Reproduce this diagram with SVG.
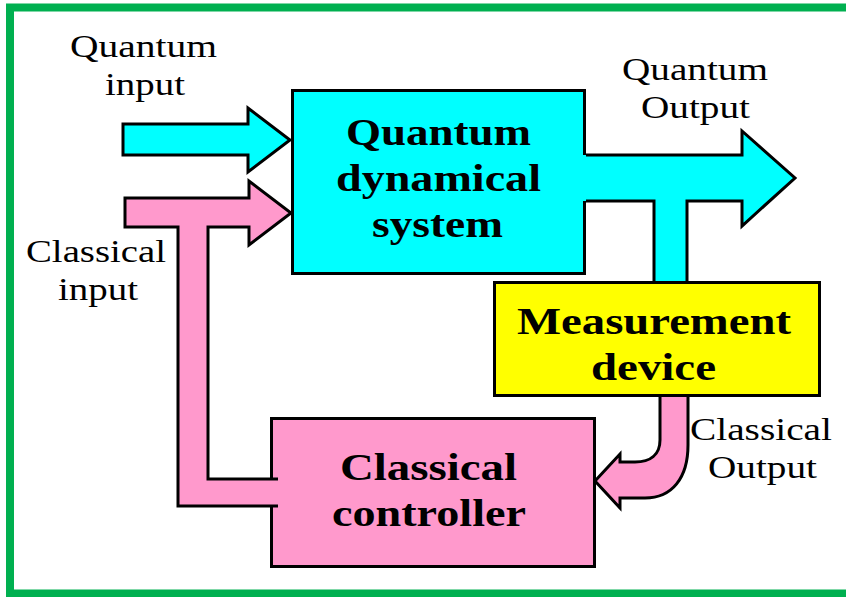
<svg xmlns="http://www.w3.org/2000/svg" width="846" height="597" viewBox="0 0 846 597">
<defs>
<style>
.frame{fill:none;stroke:#00B050;stroke-width:8}
.box{stroke:#000;stroke-width:3}
.edge{fill:none;stroke:#000;stroke-width:3;stroke-linejoin:miter}
.fillonly{stroke:none}
.cyan{fill:#00FFFF}
.yellow{fill:#FFFF00}
.pink{fill:#FF99CC}
.lbl{font-family:"Liberation Serif","Times New Roman",serif;font-size:32px;fill:#000;text-anchor:middle}
.ttl{font-family:"Liberation Serif","Times New Roman",serif;font-size:38px;font-weight:bold;fill:#000;text-anchor:middle}
</style>
</defs>
<rect width="846" height="597" fill="#fff"/>
<rect class="frame" x="10" y="7.5" width="860" height="586"/>

<g id="quantum-system">
<rect class="box cyan" x="292.5" y="90.5" width="292" height="183"/>
<text class="ttl" x="438.5" y="145" textLength="185" lengthAdjust="spacingAndGlyphs">Quantum</text>
<text class="ttl" x="438.5" y="191" textLength="205" lengthAdjust="spacingAndGlyphs">dynamical</text>
<text class="ttl" x="437.5" y="237" textLength="131" lengthAdjust="spacingAndGlyphs">system</text>
</g>

<g id="measurement-device">
<rect class="box yellow" x="494.5" y="282.5" width="325" height="113"/>
<text class="ttl" x="654" y="334" textLength="274" lengthAdjust="spacingAndGlyphs">Measurement</text>
<text class="ttl" x="653.5" y="380" textLength="125" lengthAdjust="spacingAndGlyphs">device</text>
</g>

<g id="classical-controller">
<rect class="box pink" x="271.5" y="418.5" width="323" height="148"/>
<text class="ttl" x="428.5" y="480" textLength="177" lengthAdjust="spacingAndGlyphs">Classical</text>
<text class="ttl" x="429" y="526" textLength="194" lengthAdjust="spacingAndGlyphs">controller</text>
</g>

<g id="connectors">
<g id="quantum-input">
<polygon class="box cyan" points="123,124 248,124 248,108 290,140 248,172 248,155 123,155"/>
</g>
<g id="classical-feedback">
<polygon class="pink fillonly" points="125,198 249,198 249,181 291,213 249,245 249,227 208,227 208,479 278,479 278,506 178,506 178,227 125,227"/>
<polyline class="edge" points="278,479 208,479 208,227 249,227 249,245 291,213 249,181 249,198 125,198 125,227 178,227 178,506 278,506"/>
</g>
<g id="quantum-output">
<polygon class="cyan fillonly" points="583,155 742,155 742,131 795,178 742,226 742,201 687,201 687,281 654,281 654,201 583,201"/>
<polyline class="edge" points="586,155 742,155 742,131 795,178 742,226 742,201 687,201 687,281"/>
<polyline class="edge" points="654,281 654,201 586,201"/>
</g>
<g id="classical-output">
<path class="pink fillonly" d="M660,397 L660,440 C660,455 650,462 635,462 L620,462 L620,454 L595,481 L620,508 L620,498 L645,498 C672,498 688,478 688,445 L688,397 Z"/>
<path class="edge" d="M660,397 L660,440 C660,455 650,462 635,462 L620,462 L620,454 L595,481 L620,508 L620,498 L645,498 C672,498 688,478 688,445 L688,397"/>
</g>
</g>

<g id="labels">
<text class="lbl" x="143.5" y="57" textLength="147" lengthAdjust="spacingAndGlyphs">Quantum</text>
<text class="lbl" x="145" y="95" textLength="80" lengthAdjust="spacingAndGlyphs">input</text>
<text class="lbl" x="695" y="80" textLength="146" lengthAdjust="spacingAndGlyphs">Quantum</text>
<text class="lbl" x="695.5" y="118" textLength="109" lengthAdjust="spacingAndGlyphs">Output</text>
<text class="lbl" x="96" y="262" textLength="140" lengthAdjust="spacingAndGlyphs">Classical</text>
<text class="lbl" x="98" y="300" textLength="80" lengthAdjust="spacingAndGlyphs">input</text>
<text class="lbl" x="761" y="440" textLength="142" lengthAdjust="spacingAndGlyphs">Classical</text>
<text class="lbl" x="762.5" y="478" textLength="109" lengthAdjust="spacingAndGlyphs">Output</text>
</g>
</svg>
